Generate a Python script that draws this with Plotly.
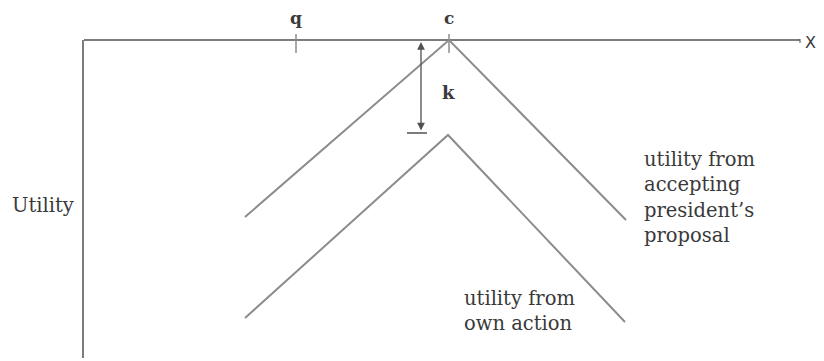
import plotly.graph_objects as go

# ---- data (schematic utility diagram; x = policy, u = utility) ----
q_position = 213
c_position = 366
policy_axis_end = 717
utility_axis_bottom = -318

upper_x = [162, 366, 543]          # utility from accepting president's proposal
upper_u = [-177, 0, -180]
lower_x = [162, 365, 542]          # utility from own action
lower_u = [-278, -95, -282]

k_x = 338
k_top = -2
k_bottom = -93

tick_labels = ["q", "c"]
upper_label = "utility from<br>accepting<br>president’s<br>proposal"
lower_label = "utility from<br>own action"

AXIS = "#505050"
LINE = "#8c8c8c"
TEXT = "#3a3a3a"
SERIF = "DejaVu Serif"

fig = go.Figure()

# axes
fig.add_trace(go.Scatter(x=[1, policy_axis_end], y=[0, 0], mode="lines",
                         line=dict(color=AXIS, width=1.5), hoverinfo="skip"))
fig.add_trace(go.Scatter(x=[policy_axis_end, policy_axis_end], y=[1, -3], mode="lines",
                         line=dict(color=AXIS, width=1), hoverinfo="skip"))
fig.add_trace(go.Scatter(x=[0, 0], y=[0, utility_axis_bottom], mode="lines",
                         line=dict(color=AXIS, width=1.5), hoverinfo="skip"))
# ticks q and c
for px in [q_position, c_position]:
    fig.add_trace(go.Scatter(x=[px, px], y=[6, -13], mode="lines",
                             line=dict(color=LINE, width=1.5), hoverinfo="skip"))

# utility curves
fig.add_trace(go.Scatter(x=upper_x, y=upper_u, mode="lines",
                         line=dict(color=LINE, width=2), hoverinfo="skip"))
fig.add_trace(go.Scatter(x=lower_x, y=lower_u, mode="lines",
                         line=dict(color=LINE, width=2), hoverinfo="skip"))

# k bar
fig.add_trace(go.Scatter(x=[k_x - 14, k_x + 6], y=[k_bottom, k_bottom], mode="lines",
                         line=dict(color=AXIS, width=1.5), hoverinfo="skip"))

annotations = [
    dict(x=k_x, y=k_top, ax=k_x, ay=k_bottom + 1, xref="x", yref="y", axref="x", ayref="y",
         text="", showarrow=True, arrowhead=2, arrowside="end+start", arrowsize=1.2,
         arrowwidth=1.3, arrowcolor=AXIS, standoff=0, startstandoff=0),
    dict(x=q_position, y=22, text="<b>%s</b>" % tick_labels[0], showarrow=False,
         font=dict(family=SERIF, size=17, color=TEXT)),
    dict(x=c_position, y=22, text="<b>%s</b>" % tick_labels[1], showarrow=False,
         font=dict(family=SERIF, size=17, color=TEXT)),
    dict(x=c_position - 1, y=-52, text="<b>k</b>", showarrow=False,
         font=dict(family=SERIF, size=18, color=TEXT)),
    dict(x=policy_axis_end + 10, y=-2, text="X", showarrow=False,
         font=dict(family="DejaVu Sans", size=16, color=TEXT)),
    dict(x=-7, y=-165, text="Utility", showarrow=False, xanchor="right",
         font=dict(family=SERIF, size=19.5, color=TEXT)),
    dict(x=559, y=-157, text=upper_label, showarrow=False, xanchor="left", align="left",
         font=dict(family=SERIF, size=19.5, color=TEXT)),
    dict(x=379, y=-271, text=lower_label, showarrow=False, xanchor="left", align="left",
         font=dict(family=SERIF, size=19.5, color=TEXT)),
]

# the page body adds an 8px offset, so the visible window starts 8px in
fig.update_layout(
    width=824, height=361,
    margin=dict(l=0, r=0, t=0, b=0),
    paper_bgcolor="white", plot_bgcolor="white",
    showlegend=False,
    xaxis=dict(range=[-75, 749], visible=False, fixedrange=True),
    yaxis=dict(range=[-329, 32], visible=False, fixedrange=True),
    annotations=annotations,
)

fig.write_html("out.html")
